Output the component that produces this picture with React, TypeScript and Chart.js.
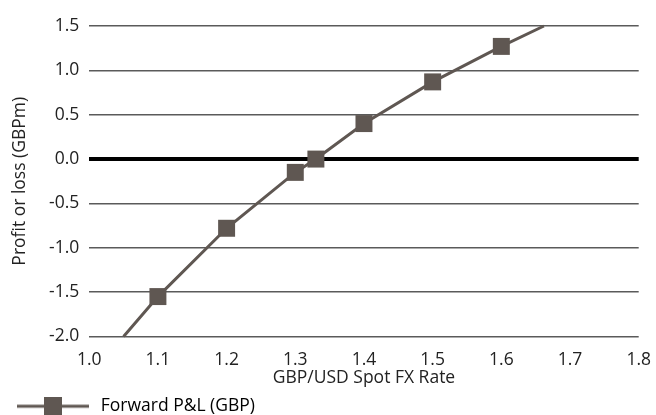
import React, { useEffect, useRef } from "react";
import { Chart, registerables } from "chart.js";

Chart.register(...registerables);

// GBP/USD spot rate and forward P&L (GBPm)
const spotRates = [1.05, 1.1, 1.2, 1.3, 1.33, 1.4, 1.5, 1.6, 1.662];
const forwardPnl = [-2.0, -1.55, -0.78, -0.15, 0.0, 0.4, 0.87, 1.27, 1.5];
const showMarker = [false, true, true, true, true, true, true, true, false];

const xTicks = [1.0, 1.1, 1.2, 1.3, 1.4, 1.5, 1.6, 1.7, 1.8];
const yTicks = [-2.0, -1.5, -1.0, -0.5, 0.0, 0.5, 1.0, 1.5];

const seriesLabel = "Forward P&L (GBP)";
const xTitle = "GBP/USD Spot FX Rate";
const yTitle = "Profit or loss (GBPm)";

const LINE = "#5f5752";
const FONT = "'Open Sans', sans-serif";
const FS = 17.5;

// Legend key: a short line with a square marker in the middle
function legendSymbol(): HTMLCanvasElement {
  const c = document.createElement("canvas");
  c.width = 78;
  c.height = 18;
  const g = c.getContext("2d")!;
  g.strokeStyle = LINE;
  g.lineWidth = 3;
  g.beginPath();
  g.moveTo(3, 9);
  g.lineTo(75, 9);
  g.stroke();
  g.fillStyle = LINE;
  g.fillRect(30, 0, 18, 18);
  return c;
}

export default function App() {
  const ref = useRef<HTMLCanvasElement>(null);

  useEffect(() => {
    if (!ref.current) return;
    const symbol = legendSymbol();
    const chart = new Chart(ref.current, {
      type: "scatter",
      data: {
        datasets: [
          {
            label: seriesLabel,
            data: spotRates.map((x, i) => ({ x, y: forwardPnl[i] })),
            showLine: true,
            borderColor: LINE,
            borderWidth: 3,
            backgroundColor: LINE,
            pointStyle: "rect",
            pointRadius: showMarker.map((m) => (m ? 12 : 0)),
            pointBorderWidth: 0,
            tension: 0,
            clip: false,
          },
        ],
      },
      options: {
        animation: false,
        responsive: false,
        maintainAspectRatio: false,
        layout: { padding: { left: 10, right: 0, top: 26, bottom: 0 } },
        plugins: {
          tooltip: { enabled: false },
          legend: {
            display: true,
            position: "bottom",
            align: "start",
            labels: {
              usePointStyle: true,
              pointStyleWidth: 78,
              color: "#222",
              font: { family: FONT, size: FS },
              padding: 4,
              generateLabels: () => [
                {
                  text: seriesLabel,
                  pointStyle: symbol as any,
                  fillStyle: LINE,
                  strokeStyle: LINE,
                  lineWidth: 0,
                  hidden: false,
                  datasetIndex: 0,
                },
              ],
            },
          },
        },
        scales: {
          x: {
            type: "linear",
            min: 1.0,
            max: 1.8,
            border: { display: false },
            grid: { display: false },
            afterBuildTicks: (axis: any) => {
              axis.ticks = xTicks.map((v) => ({ value: v }));
            },
            ticks: {
              color: "#222",
              font: { family: FONT, size: FS },
              padding: 5,
              callback: (v: any) => Number(v).toFixed(1),
              maxRotation: 0,
            },
            title: {
              display: true,
              text: xTitle,
              color: "#222",
              font: { family: FONT, size: FS },
              padding: { top: -8, bottom: 5 },
            },
          },
          y: {
            type: "linear",
            min: -2.0,
            max: 1.5,
            border: { display: false },
            afterBuildTicks: (axis: any) => {
              axis.ticks = yTicks.map((v) => ({ value: v }));
            },
            grid: {
              drawTicks: false,
              color: (ctx: any) => (ctx.tick && ctx.tick.value === 0 ? "#000" : "#5a5a5a"),
              lineWidth: (ctx: any) => (ctx.tick && ctx.tick.value === 0 ? 4 : 1.5),
            },
            ticks: {
              color: "#222",
              font: { family: FONT, size: FS },
              padding: 10,
              callback: (v: any) => Number(v).toFixed(1),
            },
            title: {
              display: true,
              text: yTitle,
              color: "#222",
              font: { family: FONT, size: FS },
              padding: { top: 0, bottom: 8 },
            },
          },
        },
      },
    });
    return () => chart.destroy();
  }, []);

  return (
    <div
      style={{
        position: "fixed",
        left: 0,
        top: 0,
        width: 656,
        height: 415,
        overflow: "hidden",
        background: "#fff",
      }}
    >
      <canvas ref={ref} width={656} height={425} style={{ display: "block" }} />
    </div>
  );
}
